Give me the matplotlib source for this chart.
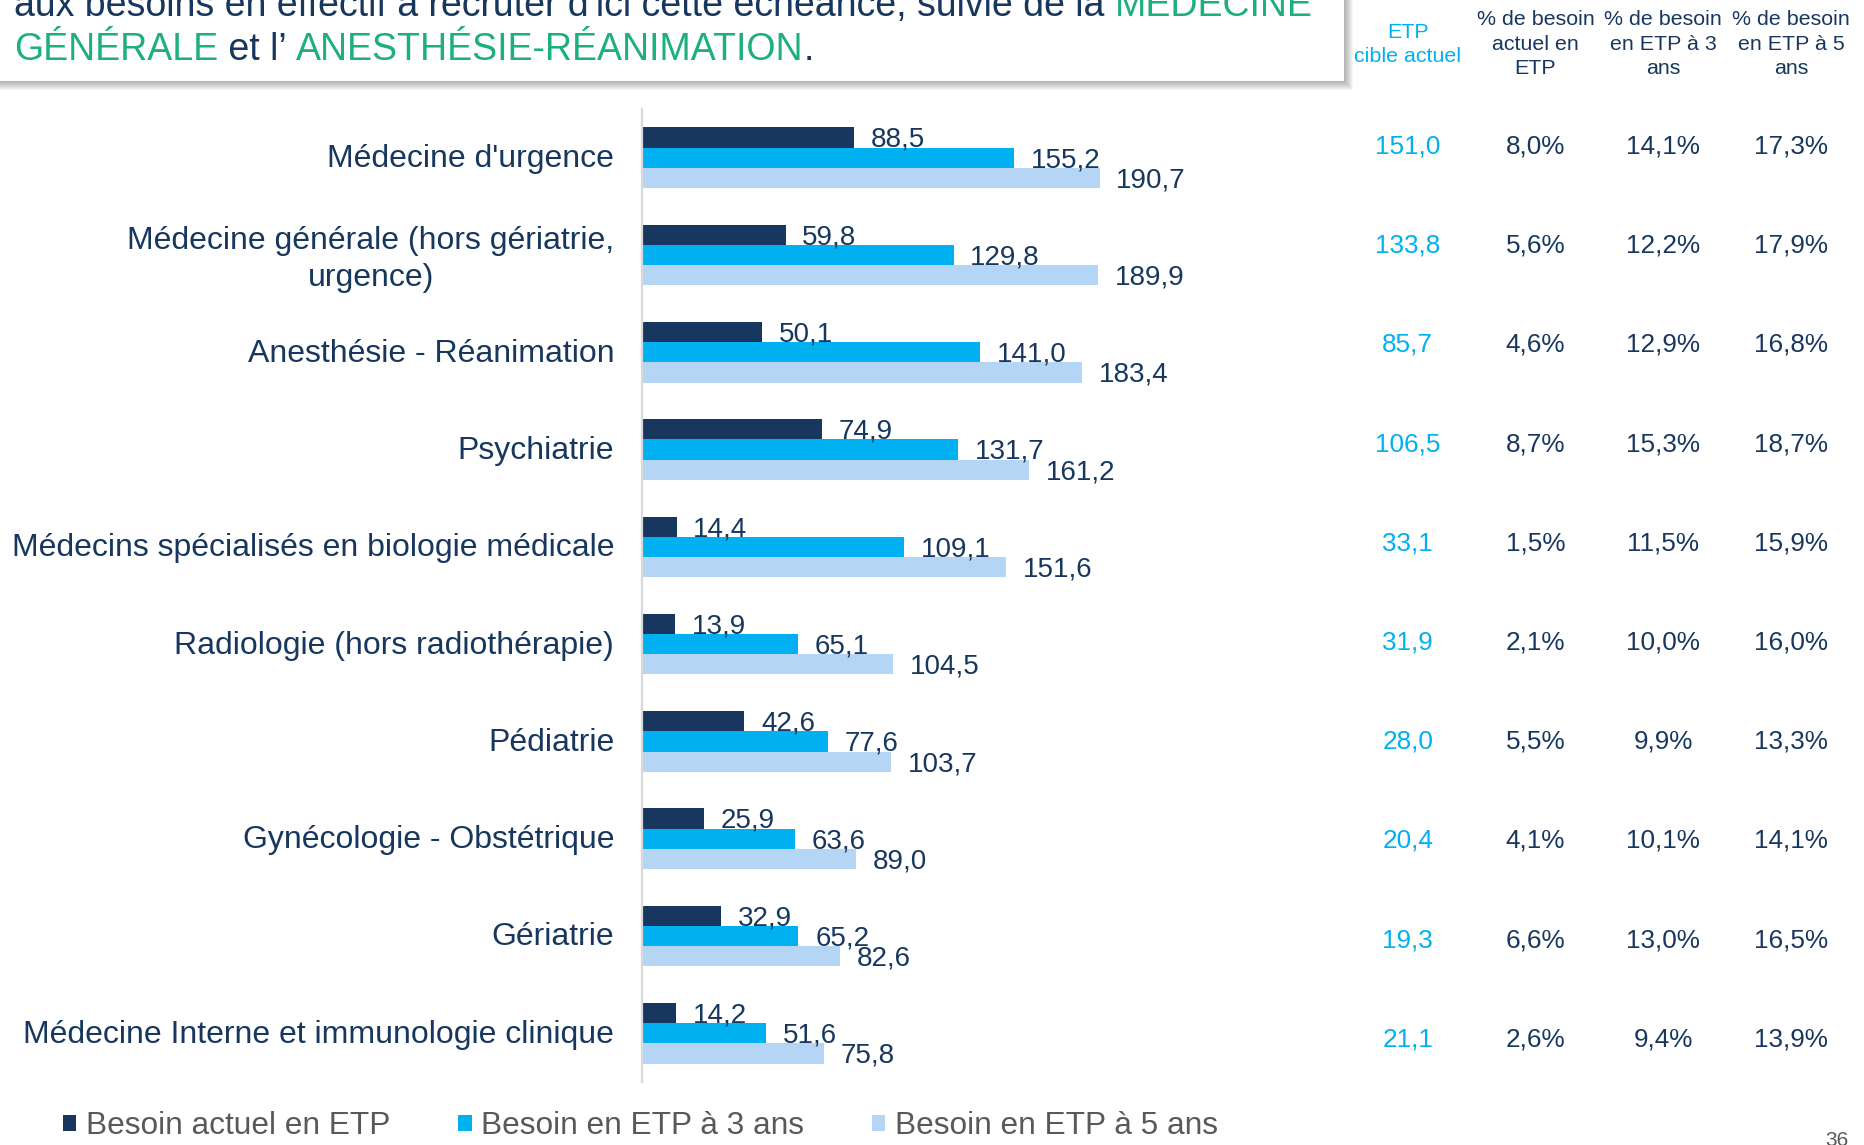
import matplotlib
matplotlib.use("Agg")
import matplotlib.pyplot as plt
import matplotlib.transforms as mtransforms
from matplotlib.patches import Rectangle
import numpy as np

plt.rcParams['font.family'] = ['Liberation Sans', 'DejaVu Sans']

# ---------------- data ----------------
categories = [
    "Médecine d'urgence",
    "Médecine générale (hors gériatrie,\nurgence)",
    "Anesthésie - Réanimation",
    "Psychiatrie",
    "Médecins spécialisés en biologie médicale",
    "Radiologie (hors radiothérapie)",
    "Pédiatrie",
    "Gynécologie - Obstétrique",
    "Gériatrie",
    "Médecine Interne et immunologie clinique",
]
besoin_actuel = [88.5, 59.8, 50.1, 74.9, 14.4, 13.9, 42.6, 25.9, 32.9, 14.2]
besoin_3ans = [155.2, 129.8, 141.0, 131.7, 109.1, 65.1, 77.6, 63.6, 65.2, 51.6]
besoin_5ans = [190.7, 189.9, 183.4, 161.2, 151.6, 104.5, 103.7, 89.0, 82.6, 75.8]
series_labels = ["Besoin actuel en ETP", "Besoin en ETP à 3 ans", "Besoin en ETP à 5 ans"]

etp_cible = [151.0, 133.8, 85.7, 106.5, 33.1, 31.9, 28.0, 20.4, 19.3, 21.1]
pct_actuel = [8.0, 5.6, 4.6, 8.7, 1.5, 2.1, 5.5, 4.1, 6.6, 2.6]
pct_3ans = [14.1, 12.2, 12.9, 15.3, 11.5, 10.0, 9.9, 10.1, 13.0, 9.4]
pct_5ans = [17.3, 17.9, 16.8, 18.7, 15.9, 16.0, 13.3, 14.1, 16.5, 13.9]
table_headers = ["ETP\ncible actuel", "% de besoin\nactuel en\nETP",
                 "% de besoin\nen ETP à 3\nans", "% de besoin\nen ETP à 5\nans"]

title_line1 = [("aux besoins en effectif à recruter d'ici cette échéance, suivie de la ", "navy"),
               ("MÉDECINE", "green")]
title_line2 = [("GÉNÉRALE", "green"), (" et l’ ", "navy"),
               ("ANESTHÉSIE-RÉANIMATION", "green"), (".", "navy")]
page_number = "36"

# ---------------- style ----------------
NAVY = '#17375E'
CYAN = '#00B0F0'
LIGHT = '#B4D5F4'
GREEN = '#1DAF7E'
GRAY = '#595959'
colors = [NAVY, CYAN, LIGHT]
cmap = {"navy": NAVY, "green": GREEN}

FW, FH = 1865, 1145
fig = plt.figure(figsize=(FW / 100, FH / 100), dpi=100)
fig.patch.set_facecolor('white')

def fx(px):
    return px / FW

def fy(py):
    return 1 - py / FH

def fmt(v):
    return f"{v:.1f}".replace('.', ',')

# overlay axes in pixel space for decorations
ov = fig.add_axes([0, 0, 1, 1], zorder=0)
ov.set_xlim(0, FW)
ov.set_ylim(FH, 0)
ov.axis('off')

# ---------------- bar chart ----------------
n = len(categories)
ax = fig.add_axes([fx(642), fy(1082), fx(720), 973 / FH], zorder=2)
ax.patch.set_alpha(0)
y = np.arange(n)
h = 0.2077
series = [besoin_actuel, besoin_3ans, besoin_5ans]
handles = []
for k, (vals, c, lab) in enumerate(zip(series, colors, series_labels)):
    bars = ax.barh(y + (k - 1) * h, vals, height=h, color=c, label=lab, zorder=2)
    handles.append(bars)
    for b, v in zip(bars, vals):
        ax.annotate(fmt(v), xy=(b.get_width(), b.get_y() + b.get_height() / 2),
                    xytext=(12, -1.7), textcoords='offset points',
                    va='center', ha='left', fontsize=20, color=NAVY, zorder=4)
ax.set_ylim(n - 0.5, -0.5)
ax.set_xlim(0, 300)
ax.set_xticks([])
ax.set_yticks(y)
ax.set_yticklabels(categories, fontsize=23, color=NAVY)
ax.tick_params(axis='y', length=0, pad=20)
shift = mtransforms.ScaledTranslation(0, 1.5 / 72, fig.dpi_scale_trans)
for lbl in ax.get_yticklabels():
    lbl.set_multialignment('center')
    lbl.set_linespacing(1.28)
    lbl.set_transform(lbl.get_transform() + shift)
for s in ['top', 'right', 'bottom']:
    ax.spines[s].set_visible(False)
ax.spines['left'].set_color('#D9D9D9')
ax.spines['left'].set_linewidth(1.6)

# ---------------- table ----------------
row0 = 146.5
tab = fig.add_axes([fx(1344), fy(row0 + 9.5 * 99.2), fx(4 * 127.7), (10 * 99.2) / FH], zorder=2)
tab.set_xlim(-0.5, 3.5)
tab.set_ylim(n - 0.5, -0.5)
tab.axis('off')
cols = [
    ([fmt(v) for v in etp_cible], CYAN),
    ([fmt(v) + '%' for v in pct_actuel], NAVY),
    ([fmt(v) + '%' for v in pct_3ans], NAVY),
    ([fmt(v) + '%' for v in pct_5ans], NAVY),
]
for j, (vals, c) in enumerate(cols):
    for i, s in enumerate(vals):
        tab.text(j, i, s, ha='center', va='center', fontsize=18.8, color=c)
    tab.text(j, -1.03, table_headers[j], ha='center', va='center', fontsize=15.4,
             color=c, linespacing=1.36, clip_on=False)

# ---------------- title box ----------------
for d in range(1, 10):
    ov.add_patch(Rectangle((-20, -20), 1344 + 20 + d, 81 + 20 + d,
                           facecolor='#000000', alpha=0.035, edgecolor='none', zorder=1))
ov.add_patch(Rectangle((-20, -20), 1344 + 20, 81 + 20, facecolor='white',
                       edgecolor='none', zorder=2))

def draw_line(pieces, x0, ybase, fs):
    prev = None
    for txt, cname in pieces:
        if prev is None:
            prev = ov.text(x0, ybase, txt, ha='left', va='baseline', fontsize=fs,
                           color=cmap[cname], zorder=3)
        else:
            prev = ov.annotate(txt, xy=(1, 0), xycoords=prev, ha='left', va='bottom',
                               fontsize=fs, color=cmap[cname], zorder=3)

draw_line(title_line1, 14, 16, 27.0)
draw_line(title_line2, 14, 60.5, 27.0)

# page number
ov.text(1837, 1131, page_number, ha='center', va='top', fontsize=15, color=GRAY)

# ---------------- legend ----------------
leg = fig.legend(handles=handles, labels=series_labels, loc='center left',
                 bbox_to_anchor=(fx(63), fy(1126.5)), ncol=3, frameon=False,
                 fontsize=22.8, handlelength=0.42, handleheight=0.42,
                 handletextpad=0.3, columnspacing=2.15, borderpad=0, borderaxespad=0)
for t in leg.get_texts():
    t.set_color(GRAY)

fig.savefig('out.png', dpi=100)
